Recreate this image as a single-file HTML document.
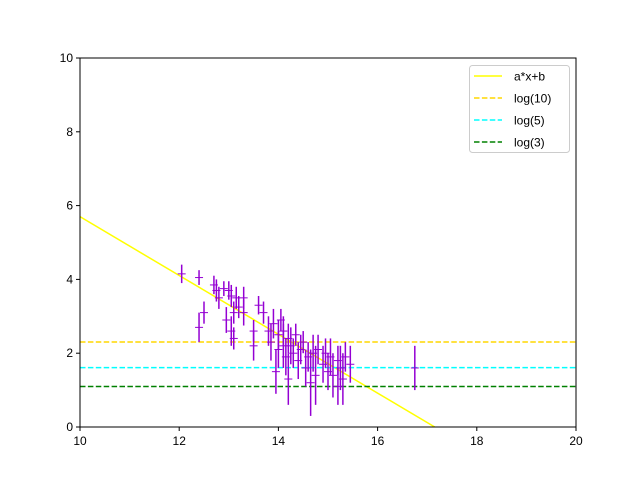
<!DOCTYPE html>
<html><head><meta charset="utf-8"><style>
html,body{margin:0;padding:0;background:#fff;width:640px;height:480px;overflow:hidden;position:relative}
svg{position:absolute;left:0;top:0;display:block;font-family:"Liberation Sans","DejaVu Sans",sans-serif}
</style></head><body>
<svg id="chart" width="640" height="480" viewBox="0 0 640 480">
<defs><clipPath id="cp"><rect x="80" y="58" width="496" height="369"/></clipPath></defs>
<rect x="0" y="0" width="640" height="480" fill="#fff"/>
<g id="marks" clip-path="url(#cp)"></g>
<g id="axes"></g>
</svg>
<script>
const xs=[12.05,12.4,12.4,12.5,12.7,12.75,12.8,12.9,12.95,13.0,13.05,13.05,13.1,13.1,13.15,13.2,13.3,13.3,13.5,13.5,13.6,13.7,13.8,13.85,13.9,13.95,14.0,14.0,14.05,14.1,14.1,14.15,14.2,14.2,14.25,14.3,14.35,14.4,14.45,14.5,14.55,14.6,14.65,14.7,14.75,14.8,14.9,14.95,15.0,15.05,15.1,15.2,15.2,15.25,15.3,15.35,15.45,16.75];
const ys=[4.15,4.05,2.7,3.1,3.85,3.7,3.5,3.75,2.9,3.7,3.55,2.6,3.1,2.4,3.5,3.25,3.5,3.1,2.2,2.6,3.3,3.1,2.6,2.3,2.8,1.5,2.5,2.1,2.9,2.2,2.6,1.9,2.4,1.3,2.2,2.0,2.5,1.8,2.1,2.3,1.6,1.9,1.2,2.0,1.4,2.1,1.7,2.0,1.5,1.9,1.4,1.8,1.1,1.6,1.3,1.9,1.7,1.6];
const errs=[0.25,0.2,0.4,0.3,0.25,0.3,0.3,0.2,0.35,0.25,0.3,0.4,0.3,0.3,0.3,0.3,0.3,0.35,0.4,0.3,0.25,0.3,0.4,0.5,0.4,0.6,0.4,0.5,0.3,0.6,0.4,0.5,0.4,0.7,0.5,0.4,0.3,0.5,0.4,0.3,0.5,0.4,0.9,0.5,0.8,0.4,0.5,0.4,0.5,0.5,0.6,0.4,0.5,0.6,0.7,0.4,0.5,0.6];
const fitA=-0.797, fitB=13.67;
const hlines=[Math.log(10),Math.log(5),Math.log(3)];
const hcolors=["#ffd700","#00ffff","#008000"];
const legendLabels=["a*x+b","log(10)","log(5)","log(3)"];
const xticks=[10,12,14,16,18,20];
const yticks=[0,2,4,6,8,10];

const L=80,R=576,T=58,B=427;
const sx=v=>L+(v-10)/10*(R-L);
const sy=v=>B-(v/10)*(B-T);
const NS="http://www.w3.org/2000/svg";
const marks=document.getElementById('marks'), axes=document.getElementById('axes');
function mk(p,tag,at){const e=document.createElementNS(NS,tag);for(const k in at)e.setAttribute(k,at[k]);p.appendChild(e);return e;}

const xEnd=Math.min(20,-fitB/fitA);
let fl=mk(marks,'line',{x1:sx(10),y1:sy(fitA*10+fitB),x2:sx(xEnd),y2:sy(fitA*xEnd+fitB),stroke:'#ffff00','stroke-width':1.5});


hlines.forEach((v,i)=>{
 let l=mk(marks,'line',{x1:L,x2:R,y1:sy(v),y2:sy(v),stroke:hcolors[i],'stroke-width':1.5,'stroke-dasharray':'5.5,2.4'});
 
 
});
xs.forEach((x,i)=>{
 const g=mk(marks,'g',{stroke:'#9400d3','stroke-width':1.5});
 
 
 mk(g,'line',{x1:sx(x),x2:sx(x),y1:sy(ys[i]-errs[i]),y2:sy(ys[i]+errs[i])});
 mk(g,'line',{x1:sx(x)-4,x2:sx(x)+4,y1:sy(ys[i]),y2:sy(ys[i]),'stroke-width':1});
});

let fr=mk(axes,'rect',{x:L,y:T,width:R-L,height:B-T,fill:'none',stroke:'#000','stroke-width':1});


xticks.forEach(t=>{
 mk(axes,'line',{x1:sx(t),x2:sx(t),y1:B,y2:B+4,stroke:'#000'});
 let tx=mk(axes,'text',{x:sx(t),y:B+18,'text-anchor':'middle','font-size':12});
 tx.textContent=t;
 
 
});
yticks.forEach(t=>{
 mk(axes,'line',{x1:L-4,x2:L,y1:sy(t),y2:sy(t),stroke:'#000'});
 let tx=mk(axes,'text',{x:L-7,y:sy(t)+4,'text-anchor':'end','font-size':12});
 tx.textContent=t;
 
 
});
const lg=mk(axes,'g',{});


mk(lg,'rect',{x:469.5,y:65.5,width:100,height:87,rx:3,fill:'#fff',stroke:'#ccc'});
const lc=['#ffff00'].concat(hcolors);
legendLabels.forEach((s,i)=>{
 const y=76+i*22;
 const e=mk(lg,'g',{});
 
 
 mk(e,'line',{x1:474,x2:502,y1:y,y2:y,stroke:lc[i],'stroke-width':1.5,'stroke-dasharray':i?'5.5,2.4':'none'});
 const t=mk(e,'text',{x:514,y:y+4.5,'font-size':12});
 t.textContent=s;
});
</script>
</body></html>
